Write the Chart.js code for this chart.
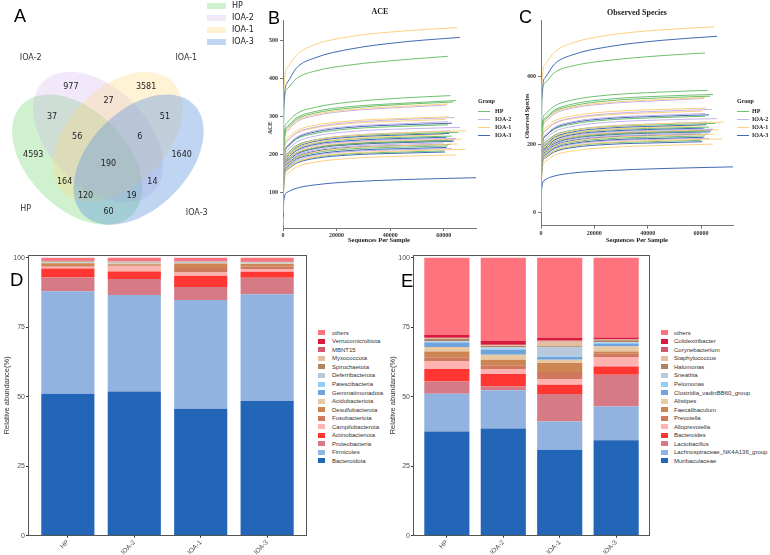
<!DOCTYPE html>
<html><head><meta charset="utf-8">
<script src="https://cdn.jsdelivr.net/npm/chart.js@4.4.0/dist/chart.umd.min.js"></script>
<style>
html,body{margin:0;padding:0;background:#fff;}
#root{position:relative;width:770px;height:555px;overflow:hidden;background:#fff;}
canvas{position:absolute;}
.t{position:absolute;white-space:nowrap;line-height:1;}
</style></head><body><div id="root"></div>
<script>
// ---------- DATA ----------
// Panel A (Venn)
const vennSets = ['HP', 'IOA-2', 'IOA-1', 'IOA-3'];
const vennRegions = ['HP', 'IOA-2', 'IOA-1', 'IOA-3', 'HP&IOA-2', 'IOA-2&IOA-1', 'IOA-1&IOA-3', 'HP&IOA-1', 'IOA-2&IOA-3', 'HP&IOA-3', 'HP&IOA-2&IOA-1', 'IOA-2&IOA-1&IOA-3', 'HP&IOA-1&IOA-3', 'HP&IOA-2&IOA-3', 'all'];
const vennCounts = [4593, 977, 3581, 1640, 37, 27, 51, 164, 14, 60, 56, 6, 120, 19, 190];

// Panels B, C (rarefaction)
const rareGroups = ['HP', 'IOA-2', 'IOA-1', 'IOA-3'];
const rareDepths = [0, 300, 1500, 5000, 12000, 25000, 45000];
const rareXTicks = [0, 20000, 40000, 60000];
const sampleGroup = ['IOA-1','IOA-3','HP','HP','HP','HP','IOA-1','IOA-2','IOA-1','IOA-2','IOA-1','IOA-2','IOA-3','HP','IOA-2','IOA-1','HP','IOA-3','IOA-1','HP','IOA-3','IOA-2','IOA-1','HP','IOA-3','IOA-2','IOA-1','HP','IOA-3','IOA-1','HP','IOA-3','IOA-1','IOA-3','IOA-2','IOA-3','IOA-2','IOA-3'];
const sampleDepth = [65000,66000,61500,62500,64500,63500,61500,61000,62000,64000,60500,61500,63000,61500,66000,68500,65500,62000,60000,63000,61000,64500,66500,62000,63500,60000,65000,61500,61000,68000,60000,60500,64500,72000,62500,64000,63000,62500];
const aceYTicks = [100, 200, 300, 400, 500];
const aceVals = [
 [45,365,428,462,490,511,526,535],[35,325,388,428,455,478,497,509],[35,320,372,400,420,436,450,459],
 [30,235,283,307,324,338,349,355],[28,228,272,296,313,326,335,342],[28,224,268,292,309,322,332,338],
 [25,215,262,288,305,318,327,333],[25,216,260,285,302,315,324,330],[22,205,242,262,277,288,295,299],
 [22,195,234,256,272,284,292,297],[20,198,236,256,270,281,288,292],[20,182,222,245,262,274,281,286],
 [18,178,218,242,259,271,278,282],[20,182,219,240,255,267,274,278],[18,170,209,232,248,260,267,271],
 [15,160,196,220,237,249,257,262],[18,168,202,223,238,248,254,258],[16,160,196,218,234,245,251,255],
 [15,152,189,213,230,241,248,252],[16,160,193,214,229,240,245,248],[15,152,188,210,226,236,242,245],
 [15,155,188,208,223,233,239,242],[14,145,180,203,219,230,236,240],[15,152,184,203,217,227,233,236],
 [14,148,180,200,215,225,231,234],[14,146,178,197,211,221,227,230],[13,138,170,191,206,217,223,227],
 [14,142,172,190,204,214,219,222],[13,136,167,187,200,210,215,218],[12,128,158,178,193,203,209,213],
 [12,132,161,179,192,201,206,209],[12,130,158,176,189,198,203,206],[10,118,147,166,179,189,195,198],
 [10,78,99,110,119,127,133,138],[16,165,200,222,238,250,257,262],[14,150,183,203,218,228,234,238],
 [12,135,164,183,197,207,212,215],[13,142,174,193,208,218,223,226]
];
const obsYTicks = [0, 200, 400];
const obsVals = [
 [0,370,435,470,498,520,536,545],[0,330,395,435,463,486,505,517],[0,330,380,410,430,446,460,468],
 [0,240,288,312,330,344,353,358],[0,232,276,300,318,332,341,346],[0,228,272,296,313,327,336,341],
 [0,218,266,292,309,322,331,337],[0,220,264,289,306,319,328,334],[0,210,247,268,283,295,302,306],
 [0,198,238,261,277,289,297,302],[0,202,240,261,275,286,293,297],[0,185,226,249,266,278,285,290],
 [0,182,222,246,263,275,282,286],[0,186,223,244,259,271,278,282],[0,172,212,236,252,264,271,275],
 [0,162,199,223,240,252,260,265],[0,170,205,226,241,251,257,261],[0,162,198,220,236,247,253,257],
 [0,154,191,215,232,243,250,254],[0,162,195,216,231,242,247,250],[0,154,190,212,228,238,244,247],
 [0,157,190,210,225,235,241,244],[0,146,181,205,221,232,238,242],[0,154,186,205,219,229,235,238],
 [0,150,182,202,217,227,233,236],[0,147,179,199,213,223,229,232],[0,139,171,193,208,219,225,229],
 [0,143,173,192,206,216,221,224],[0,137,168,188,202,212,217,220],[0,129,160,180,195,205,211,215],
 [0,133,162,180,194,203,208,211],[0,131,159,177,190,199,204,207],[0,119,148,167,180,190,196,200],
 [0,72,95,106,115,122,128,133],[0,168,203,225,241,253,260,265],[0,152,185,206,221,231,237,241],
 [0,137,166,185,199,209,214,217],[0,144,176,196,211,221,226,229]
];

// Panels D, E (relative abundance, stacked bottom -> top)
const samples = ['HP', 'IOA-2', 'IOA-1', 'IOA-3'];
const abundTicks = [0, 25, 50, 75, 100];
const phylumNames = ['Bacteroidota','Firmicutes','Proteobacteria','Actinobacteriota','Campilobacterota','Fusobacteriota','Desulfobacterota','Acidobacteriota','Gemmatimonadota','Patescibacteria','Deferribacterota','Spirochaetota','Myxococcota','MBNT15','Verrucomicrobiota','others'];
const phylumValues = [
 [51.1, 51.9, 45.7, 48.5],
 [36.9, 34.7, 39.1, 38.4],
 [4.9, 5.8, 4.7, 5.9],
 [3.2, 2.7, 4.0, 2.2],
 [0.7, 1.8, 1.2, 1.0],
 [0.2, 0.3, 1.6, 0.9],
 [1.0, 0.5, 1.6, 0.9],
 [0.2, 0.3, 0.2, 0.2],
 [0.1, 0.1, 0.1, 0.1],
 [0.1, 0.1, 0.1, 0.1],
 [0.1, 0.1, 0.1, 0.1],
 [0.2, 0.2, 0.1, 0.1],
 [0.1, 0.2, 0.2, 0.2],
 [0.1, 0.1, 0.1, 0.1],
 [0.1, 0.1, 0.1, 0.1],
 [1.0, 1.1, 1.1, 1.2]
];
const genusNames = ['Muribaculaceae','Lachnospiraceae_NK4A136_group','Lactobacillus','Bacteroides','Alloprevotella','Prevotella','Faecalibaculum','Alistipes','Clostridia_vadinBB60_group','Pelomonas','Sneathia','Halomonas','Staphylococcus','Corynebacterium','Colidextribacter','others'];
const genusValues = [
 [37.5, 38.6, 30.9, 34.3],
 [13.6, 13.7, 10.2, 12.2],
 [4.4, 1.4, 9.9, 11.4],
 [4.5, 4.5, 3.3, 3.0],
 [2.7, 1.8, 2.1, 3.4],
 [1.5, 1.3, 2.5, 1.2],
 [2.1, 2.0, 3.2, 0.8],
 [1.6, 1.8, 1.2, 1.8],
 [1.6, 1.8, 1.0, 1.1],
 [0.3, 0.5, 0.3, 0.3],
 [0.3, 0.4, 3.3, 0.2],
 [0.7, 0.5, 0.3, 0.6],
 [0.2, 0.2, 1.7, 0.2],
 [0.2, 0.2, 0.3, 0.2],
 [1.0, 1.4, 0.9, 0.6],
 [27.8, 29.9, 28.9, 28.7]
];

// ---------- STYLE / LAYOUT ----------
const stackColors = ['#2365B6','#92B3E0','#D67A86','#FF3631','#FFB3B0','#D0785E','#CD8552','#E8C9A3','#6FA3DB','#92CDF5','#B7C9DB','#B08461','#E2BFA0','#D35A6E','#D81B3C','#FF737E'];
const groupLine = {'HP':'rgba(95,185,95,0.9)','IOA-2':'rgba(190,170,230,0.9)','IOA-1':'rgba(252,205,120,0.95)','IOA-3':'rgba(45,90,170,0.9)'};
const vennFill = ['rgba(120,215,120,0.35)','rgba(200,165,235,0.25)','rgba(255,215,120,0.3)','rgba(95,150,220,0.4)'];
const vennEllipses = [{cx:0.350,cy:0.400,a:140},{cx:0.450,cy:0.500,a:140},{cx:0.544,cy:0.500,a:40},{cx:0.644,cy:0.400,a:40}];
const vennRegionPos = [[0.14,0.42],[0.32,0.72],[0.68,0.72],[0.85,0.42],[0.23,0.59],[0.50,0.66],[0.77,0.59],[0.29,0.30],[0.71,0.30],[0.50,0.17],[0.35,0.50],[0.65,0.50],[0.39,0.24],[0.61,0.24],[0.50,0.38]];
const vennNamePos = [[0.13,0.18,'right','middle'],[0.18,0.83,'right','bottom'],[0.82,0.83,'left','bottom'],[0.87,0.18,'left','top']];

Chart.defaults.animation = false;
Chart.defaults.font.family = "'Liberation Sans', Arial, sans-serif";

const root = document.getElementById('root');
function addCanvas(x, y, w, h) {
  const c = document.createElement('canvas');
  c.width = w; c.height = h;
  c.style.left = x + 'px'; c.style.top = y + 'px';
  c.style.width = w + 'px'; c.style.height = h + 'px';
  root.appendChild(c); return c;
}
function addText(s, x, y, css, ax, ay, rot) {
  const d = document.createElement('div');
  d.className = 't'; d.textContent = s; d.style.cssText += css;
  d.style.left = x + 'px'; d.style.top = y + 'px';
  d.style.transform = 'translate(' + (-(ax ?? 0.5) * 100) + '%,' + (-(ay ?? 0.5) * 100) + '%)' + (rot ? ' rotate(' + rot + 'deg)' : '');
  root.appendChild(d); return d;
}
function addBox(x, y, w, h, css) {
  const d = document.createElement('div');
  d.style.cssText = 'position:absolute;left:' + x + 'px;top:' + y + 'px;width:' + w + 'px;height:' + h + 'px;' + css;
  root.appendChild(d); return d;
}
const fixW = w => s => { s.width = w; s.paddingTop = 0; s.paddingBottom = 0; };
const fixH = h => s => { s.height = h; s.paddingLeft = 0; s.paddingRight = 0; };
const setTicks = arr => s => { s.ticks = arr.map(v => ({ value: v })); };

const LETTER = "font-family:'Liberation Sans',Arial,sans-serif;font-size:18px;color:#000;";
const SERIFB = "font-family:'Liberation Serif','Times New Roman',serif;font-weight:bold;color:#222;";

// ---------- PANEL A: Venn ----------
const vennPlugin = {
  id: 'venn',
  beforeDatasetsDraw(chart) {
    const { ctx, scales: { x, y } } = chart;
    const sx = x.getPixelForValue(1) - x.getPixelForValue(0);
    const sy = y.getPixelForValue(0) - y.getPixelForValue(1);
    vennEllipses.forEach((e, i) => {
      ctx.save();
      ctx.translate(x.getPixelForValue(e.cx), y.getPixelForValue(e.cy));
      ctx.scale(sx, -sy);
      ctx.rotate(e.a * Math.PI / 180);
      ctx.beginPath();
      ctx.ellipse(0, 0, 0.36, 0.225, 0, 0, 2 * Math.PI);
      ctx.restore();
      ctx.fillStyle = vennFill[i];
      ctx.fill();
    });
  },
  afterDatasetsDraw(chart) {
    const ctx = chart.ctx;
    ctx.save();
    ctx.font = "8px 'DejaVu Sans', sans-serif";
    ctx.fillStyle = '#222';
    ctx.textAlign = 'center'; ctx.textBaseline = 'middle';
    chart.getDatasetMeta(0).data.forEach((p, i) => ctx.fillText(String(vennCounts[i]), p.x, p.y));
    ctx.fillStyle = '#333';
    chart.getDatasetMeta(1).data.forEach((p, i) => {
      ctx.textAlign = vennNamePos[i][2]; ctx.textBaseline = vennNamePos[i][3];
      ctx.fillText(vennSets[i], p.x, p.y);
    });
    ctx.restore();
  }
};
new Chart(addCanvas(0, 0, 250, 250), {
  type: 'scatter',
  data: { datasets: [
    { data: vennRegionPos.map(p => ({ x: p[0], y: p[1] })), pointRadius: 0 },
    { data: vennNamePos.map(p => ({ x: p[0], y: p[1] })), pointRadius: 0 }
  ] },
  options: {
    responsive: false, devicePixelRatio: 1,
    layout: { padding: { left: 4, right: 37, top: 24, bottom: 0 } },
    plugins: { legend: { display: false }, tooltip: { enabled: false } },
    scales: { x: { display: false, min: 0, max: 1 }, y: { display: false, min: 0, max: 1 } }
  },
  plugins: [vennPlugin]
});
addText('A', 14, 7, LETTER, 0, 0);
vennSets.forEach((s, i) => {
  const cy = 5.5 + i * 12.3;
  addBox(207, cy - 3, 19, 6, 'background:' + vennFill[i] + ';');
  addText(s, 232, cy, "font-family:'DejaVu Sans',sans-serif;font-size:8px;color:#222;", 0, 0.5);
});

// ---------- PANELS B, C: rarefaction ----------
function rareDatasets(vals) {
  return sampleGroup.map((g, i) => ({
    data: rareDepths.map((d, j) => ({ x: d, y: vals[i][j] })).concat([{ x: sampleDepth[i], y: vals[i][7] }]),
    borderColor: groupLine[g], borderWidth: 1, pointRadius: 0,
    cubicInterpolationMode: 'monotone', fill: false
  }));
}
const tickFont = { family: "'Liberation Serif','Times New Roman',serif", weight: 'bold', size: 6 };
function rareChart(canvas, vals, yMin, yMax, yTicks, yW, xH, padR) {
  return new Chart(canvas, {
    type: 'line',
    data: { datasets: rareDatasets(vals) },
    options: {
      responsive: false, devicePixelRatio: 1,
      layout: { padding: { top: 20, right: padR, left: 0, bottom: 0 } },
      plugins: { legend: { display: false }, tooltip: { enabled: false } },
      scales: {
        x: { type: 'linear', min: 0, max: 72000, afterBuildTicks: setTicks(rareXTicks), afterFit: fixH(xH),
             ticks: { font: tickFont, color: '#333', padding: 1, maxRotation: 0, autoSkip: false, callback: v => String(v) },
             grid: { drawOnChartArea: false, tickLength: 3, color: '#777' }, border: { color: '#777' } },
        y: { min: yMin, max: yMax, afterBuildTicks: setTicks(yTicks), afterFit: fixW(yW),
             ticks: { font: tickFont, color: '#333', padding: 2, autoSkip: false, callback: v => String(v) },
             grid: { drawOnChartArea: false, tickLength: 3, color: '#777' }, border: { color: '#777' } }
      }
    }
  });
}
rareChart(addCanvas(250, 0, 260, 250), aceVals, 5, 555, aceYTicks, 33, 22, 34);
rareChart(addCanvas(510, 0, 260, 250), obsVals, -40, 565, obsYTicks, 31, 24.3, 37);

addText('B', 268, 9, LETTER, 0, 0);
addText('C', 519, 8, LETTER, 0, 0);
addText('ACE', 380, 11.5, SERIFB + 'font-size:8px;');
addText('Observed Species', 637, 12.5, SERIFB + 'font-size:8px;');
addText('Sequences Per Sample', 379, 239.5, SERIFB + 'font-size:6.5px;');
addText('Sequences Per Sample', 637, 239.5, SERIFB + 'font-size:6.5px;');
addText('ACE', 270, 128, SERIFB + 'font-size:6px;', 0.5, 0.5, -90);
addText('Observed Species', 527, 116, SERIFB + 'font-size:6px;', 0.5, 0.5, -90);
[[478, 495], [737, 752]].forEach(([lx, tx]) => {
  addText('Group', lx, 100.7, SERIFB + 'font-size:6px;', 0, 0.5);
  rareGroups.forEach((g, i) => {
    const cy = 111 + i * 8;
    addBox(lx, cy - 0.5, 12, 1.2, 'background:' + groupLine[g] + ';');
    addText(g, tx, cy, SERIFB + 'font-size:6px;', 0, 0.5);
  });
});

// ---------- PANELS D, E: stacked bars ----------
const boxPlugin = {
  id: 'box',
  afterDraw(chart) {
    const { ctx, chartArea: a } = chart;
    ctx.save(); ctx.strokeStyle = '#555'; ctx.lineWidth = 1;
    ctx.strokeRect(Math.round(a.left) + 0.5, Math.round(a.top) + 0.5, Math.round(a.right - a.left) - 1, Math.round(a.bottom - a.top) - 1);
    ctx.restore();
  }
};
const axFont = { family: "'Liberation Sans', Arial, sans-serif", size: 7 };
function barChart(canvas, names, values, titlePad, padR) {
  return new Chart(canvas, {
    type: 'bar',
    data: { datasets: names.map((n, k) => ({
      label: n, data: values[k].map((v, i) => ({ x: i + 1, y: v })),
      backgroundColor: stackColors[k], borderWidth: 0, barPercentage: 0.8, categoryPercentage: 1
    })) },
    options: {
      responsive: false, devicePixelRatio: 1,
      layout: { padding: { top: 5, right: padR, left: 0, bottom: 0 } },
      plugins: { legend: { display: false }, tooltip: { enabled: false } },
      scales: {
        x: { type: 'linear', stacked: true, offset: false, min: 0.4, max: 4.6, afterBuildTicks: setTicks([1, 2, 3, 4]), afterFit: fixH(19.3),
             ticks: { font: { family: axFont.family, size: 6.5 }, color: '#4D4D4D', padding: 1, minRotation: 45, maxRotation: 45, autoSkip: false, callback: v => samples[v - 1] },
             grid: { offset: false, drawOnChartArea: false, tickLength: 2, color: '#333' }, border: { display: false } },
        y: { stacked: true, min: 0, max: 101, afterBuildTicks: setTicks(abundTicks), afterFit: fixW(28),
             ticks: { font: axFont, color: '#4D4D4D', padding: 1, autoSkip: false, callback: v => String(v) },
             grid: { drawOnChartArea: false, tickLength: 2, color: '#333' }, border: { display: false },
             title: { display: true, text: 'Relative abundance(%)', color: '#333', font: { family: axFont.family, size: 7.5 }, padding: { top: titlePad, bottom: 0 } } }
      }
    },
    plugins: [boxPlugin]
  });
}
barChart(addCanvas(0, 250, 310, 305), phylumNames, phylumValues, 2, 3);
barChart(addCanvas(385, 250, 270, 305), genusNames, genusValues, 3, 5);
addText('D', 10, 271, LETTER + 'font-size:18.5px;', 0, 0);
addText('E', 401, 272, LETTER + 'font-size:18.5px;', 0, 0);

function stackLegend(names, sx, tx) {
  for (let r = 0; r < names.length; r++) {
    const k = names.length - 1 - r;
    const cy = 332.7 + r * 8.55;
    addBox(sx, cy - 2.5, 7, 5, 'background:' + stackColors[k] + ';');
    addText(names[k], tx, cy, "font-family:'Liberation Sans',Arial,sans-serif;font-size:6px;color:#333;", 0, 0.5);
  }
}
stackLegend(phylumNames, 318, 332);
stackLegend(genusNames, 661, 674);
</script>
</body></html>
